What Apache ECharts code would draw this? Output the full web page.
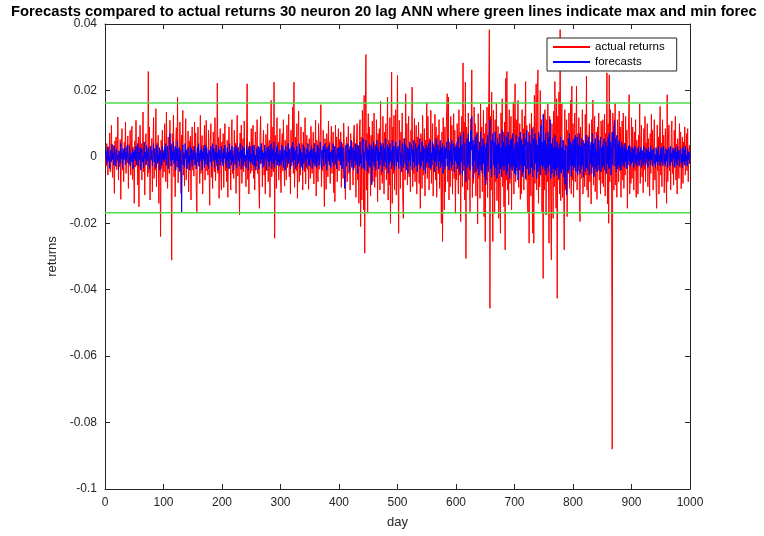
<!DOCTYPE html>
<html>
<head>
<meta charset="utf-8">
<script src="https://cdn.jsdelivr.net/npm/echarts@6/dist/echarts.min.js"></script>
<style>
html,body{margin:0;padding:0;background:#fff;}
#chart{width:764px;height:536px;}
</style>
</head>
<body>
<div id="chart"></div>
<script>
// Daily values stored in basis points (1 bp = 0.0001 return)
const BP = 0.0001;

const actualReturnsBp = [
5,-28,40,12,-55,30,-10,72,-45,18,95,-20,-62,35,8,-110,48,-15,60,-38,25,120,-70,15,-30,52,-128,20,85,-40,10,-75,44,-8,105,-50,28,-18,63,-95,37,-22,80,-55,14,92,-68,30,6,-140,
48,-30,110,-25,18,-85,60,-150,22,95,-12,40,-70,8,135,-45,26,-115,35,70,-20,12,-60,257,-48,90,-130,30,-10,55,-105,28,118,-65,15,-40,145,-90,42,-18,65,-140,25,5,-240,50,-35,80,-62,20,
-45,100,30,-75,135,-15,-95,60,12,-50,110,-28,40,-311,70,-10,125,-60,20,-120,52,88,-30,180,-78,25,-42,105,8,-110,66,-22,140,-55,14,-88,38,115,-70,18,-35,78,-105,48,-8,62,-130,24,90,-40,
32,-58,105,-20,72,-98,-165,40,90,-28,10,-80,125,-50,22,64,-112,35,-12,95,-70,28,110,-42,6,-55,80,-25,-146,48,100,-62,18,-95,75,30,-45,118,-72,15,-28,222,-50,58,-125,24,85,-38,-100,45,
-22,70,-92,38,100,-42,15,-75,50,-122,26,90,-32,8,-100,62,112,-50,18,-65,80,-25,42,-110,12,125,-58,30,-15,-175,72,-38,96,-80,22,55,-45,108,-28,5,-90,60,220,-68,32,-112,45,18,-50,85,
-42,25,95,-65,12,-100,75,35,-28,112,-50,15,-82,-155,58,122,-20,40,-90,28,80,-55,8,-112,68,22,-42,100,-75,32,50,-122,15,170,-60,-32,90,-45,225,-245,65,18,-95,118,-25,45,-70,12,85,-50,
-108,38,70,-42,112,-20,-88,50,12,-70,96,-32,25,128,-60,15,-112,80,-28,45,150,-50,225,-92,20,60,-42,100,-125,28,138,-75,18,-55,90,-25,40,-100,75,8,-45,118,-82,32,65,-38,12,-98,55,25,
-65,92,28,-50,15,75,-82,40,-18,110,-118,50,8,-75,100,-38,25,65,157,-90,18,-42,80,-28,-150,55,12,-98,70,35,-60,108,-22,45,-80,25,92,-50,8,75,-108,32,-135,96,-25,60,-75,18,85,-42,
52,-25,75,-92,22,40,-65,102,105,-42,-128,28,60,-75,15,92,-50,25,-100,70,-20,45,8,-85,65,96,-32,18,-122,55,100,-70,35,-140,90,112,-210,60,-130,140,28,-160,185,-290,120,308,-100,70,-170,130,
-50,90,25,-118,65,-42,108,-75,12,132,-92,38,-60,112,22,-135,70,-28,85,-100,168,-55,40,-80,122,15,-112,75,-38,100,-70,28,180,-130,50,-85,118,-200,65,255,-140,90,-50,125,-100,18,142,-115,40,245,
-70,-230,110,45,-95,75,-40,132,-120,-185,55,25,-70,190,-32,100,-85,20,122,-60,40,-105,80,12,210,-90,35,-50,115,-75,28,95,-112,60,-25,105,-80,18,-155,70,40,-95,125,-55,15,85,-118,50,-32,165,
-65,122,25,-100,55,-40,140,-80,18,100,-118,38,-28,128,-70,90,-122,15,65,-50,112,-95,40,-22,-200,75,-255,118,25,-160,90,-105,50,135,190,-75,180,-130,45,-90,122,-42,95,-112,12,130,-65,80,-170,38,
-70,100,30,-112,142,-55,75,-195,50,122,-90,283,-42,105,-130,225,-306,90,45,-100,132,-70,25,-165,115,60,262,-122,38,-80,150,-50,100,-118,18,75,-202,130,-65,42,-125,160,-42,90,-105,28,140,-180,70,-255,
100,-70,150,-122,50,180,383,-456,122,-100,195,-60,-255,140,28,-170,112,-75,160,-132,42,92,-185,65,-112,-230,132,-42,175,-90,75,-150,105,-280,236,-70,257,-100,50,-145,142,-80,28,122,-160,65,-42,165,-112,85,
220,-75,112,-42,65,170,-92,25,100,-128,55,-112,142,-50,85,-100,122,32,227,-70,95,-132,-168,75,-260,100,42,-118,132,-60,-230,90,-260,185,-80,50,220,-100,122,262,-140,70,-90,200,-55,112,-165,42,-366,130,
-100,142,65,-175,112,-75,160,-42,-260,122,80,-132,-310,100,42,-185,138,-90,227,60,-155,175,-426,122,-70,195,-112,383,-132,75,160,-122,50,-65,-280,142,-100,28,112,-180,80,-50,132,-95,42,170,-112,213,-70,100,
-122,55,132,-75,22,213,-100,70,-42,118,-132,-195,90,35,-65,142,-112,50,12,-90,128,-55,243,-100,65,-122,40,100,-75,18,-142,112,-32,171,-85,60,122,-105,8,75,-128,90,-42,132,-70,28,-112,108,50,-80,
112,-90,42,128,-118,70,-50,253,-142,100,-200,247,-75,142,50,-112,-880,132,75,-100,42,160,-85,22,-122,112,65,-75,138,-42,90,-122,15,108,-70,132,-95,42,-55,122,-32,80,-155,55,100,187,-112,28,-80,118,
-65,90,22,-100,75,-42,112,-122,50,8,-112,65,-28,160,-80,38,96,-60,15,-108,85,-38,122,-75,42,-20,100,-90,55,12,-118,70,-50,128,-25,80,-100,32,112,-70,5,-85,-155,96,-42,60,-112,75,152,-55,
42,-90,112,-28,65,-108,25,85,-60,-140,187,-75,50,96,-42,15,-100,70,108,-50,28,-85,80,-20,122,-70,38,-112,55,8,-65,100,-32,75,-96,22,60,-80,45,-25,90,-55,12,70,-42,85,-75,5,35,-15
];

const forecastsBp = [
-5,18,-22,8,30,-12,2,-35,20,6,-15,38,-8,12,-25,32,-2,-28,15,24,-10,5,-38,18,10,-20,42,-5,12,-32,25,-8,3,28,-24,15,-12,36,-3,-20,8,32,-28,12,5,-15,24,-36,15,-6,
20,-12,32,-25,5,40,-28,15,-8,28,-40,12,25,-15,3,-32,45,-5,15,-25,35,-12,8,28,-20,-36,12,32,-8,20,-28,5,40,-15,25,-3,-32,15,36,-20,8,-12,28,-40,20,5,-25,32,-8,12,
-15,28,-5,40,-25,12,32,-36,8,20,70,-12,36,-28,15,-8,45,-20,5,32,-40,25,-12,48,-32,3,28,-45,20,-15,-168,12,36,-25,8,-32,40,-5,20,-36,15,28,-20,5,-40,32,-12,25,-28,8,
20,-8,32,-25,12,-36,5,28,-15,40,-28,8,20,-12,32,-40,15,-5,25,-32,36,-20,3,28,-25,12,-36,20,8,-15,32,-28,5,40,-12,25,-32,15,-8,36,-20,12,-40,28,-5,20,-25,8,32,-15,
12,-28,25,-5,36,-20,8,-32,28,-12,15,-36,40,-8,20,-25,32,-15,5,-40,28,12,-20,36,-32,8,25,-12,15,-28,40,-5,20,-36,32,-25,12,28,-15,5,-32,36,-8,20,-40,25,-12,32,-20,8,
-15,32,-25,12,36,-28,5,-40,25,15,-12,32,-36,8,28,-20,40,-8,20,-32,12,-25,36,-5,15,-40,28,8,-15,32,-28,20,-12,40,-36,5,25,-20,45,-32,12,-8,28,-25,36,-15,8,-28,20,15,
-25,36,-12,28,-32,8,20,-40,32,-5,15,-28,40,-20,12,25,-36,5,32,-15,45,-25,28,-8,20,-36,12,32,-28,8,-20,40,-12,25,-32,15,5,-40,36,-20,28,-12,8,-32,25,-5,40,-25,15,-28,
20,-8,32,-36,12,25,-20,40,-28,5,15,-32,36,-12,28,-25,8,45,-15,-36,20,-5,32,-28,12,40,-20,25,-40,8,28,-12,36,-25,15,-32,5,20,-15,40,-28,12,32,-20,8,-36,25,-8,28,-12,
-12,32,-25,45,-36,15,28,-20,-55,-95,25,36,-28,8,40,-15,20,-45,32,-8,50,-32,12,28,-40,20,-12,40,-25,5,36,-50,15,32,-28,45,-20,8,-36,28,55,-32,15,-40,25,50,-12,28,-45,20,
-25,40,-32,12,36,-84,25,-15,45,-28,8,32,-40,20,50,-12,28,-36,15,-25,45,-8,32,-45,12,40,-28,25,-15,55,-32,5,36,-50,28,-20,40,-12,20,-36,50,-25,15,32,-40,8,45,-28,25,-15,
32,-36,20,50,-25,12,-45,28,40,-32,15,55,-20,36,-40,8,28,-50,25,-12,45,-28,15,36,-40,20,-15,50,-32,12,40,-25,28,-45,8,36,-20,55,-36,15,-28,45,-12,32,-40,25,12,-50,36,-20,
28,-15,40,-32,20,50,-36,12,-25,45,-8,32,-45,25,-15,55,-28,8,36,-40,20,-12,50,-32,28,-20,40,-50,15,32,-36,25,-5,45,-28,12,55,-40,20,-15,36,-32,50,-25,8,40,-45,28,-12,32,
-20,45,-36,60,-28,25,-50,65,-15,36,-55,32,75,-25,40,-45,-75,28,55,-32,70,-20,45,-40,80,20,122,-28,50,-65,36,-12,60,-45,28,70,-36,20,-55,45,-25,75,-40,32,-50,55,-20,40,-60,28,
-84,40,-28,65,-45,55,80,112,-36,50,-60,32,70,-25,45,-55,75,-32,36,-65,55,-20,40,-50,70,-36,28,-60,80,-28,45,-40,65,-25,32,-55,60,-45,75,-20,36,-65,50,-32,55,-40,70,-28,25,-50,
40,-55,65,-32,45,-70,28,60,-40,75,-25,50,-60,36,-45,70,-28,55,-65,32,80,-36,45,-55,25,65,-50,40,-32,85,-60,28,55,-40,70,-20,50,-65,36,-45,75,-32,60,-55,95,-25,45,-36,127,-28,
50,-40,70,-55,36,-32,75,-45,60,-25,112,-65,40,-50,55,-36,28,-60,65,-40,32,-55,45,-32,25,-65,40,-45,60,-50,28,-36,50,-60,20,-84,36,-55,-114,32,-45,55,-40,70,-28,45,-60,36,-25,50,
-40,55,-32,65,-45,25,60,-55,36,-28,70,-50,32,-36,55,-25,45,-60,28,40,-45,65,-32,50,-40,25,60,-55,36,-20,45,-50,70,-28,40,-60,32,55,-36,20,-45,65,-25,50,-40,32,60,-45,28,-32,
36,-28,55,-40,25,45,-50,32,-20,60,-36,70,-32,45,-55,28,75,-25,50,85,110,-28,55,-45,65,-36,40,-25,50,-32,28,-40,45,-20,36,-28,25,-32,40,-15,28,-36,20,-25,32,-12,36,-28,15,-20,
28,-15,25,-32,12,32,-20,8,-28,25,-12,32,-25,15,-8,28,-32,20,5,-25,32,-15,12,-28,25,-5,20,-32,28,-12,15,-25,32,-8,20,-28,12,25,-20,8,-32,28,-15,20,-25,32,-12,5,-28,25,
-15,28,-25,12,32,-20,8,-28,25,-12,20,-32,15,28,-8,-25,32,-15,12,-28,25,-5,20,-32,28,-12,15,-25,32,-8,20,-28,12,25,-20,8,-32,28,-15,20,-25,32,-12,5,-28,25,-8,15,-20,12
];

// Green reference lines: max and min forecast
const forecastMax = 0.0162;
const forecastMin = -0.0168;

const xTicks = { min: 0, max: 1000, interval: 100 };
const yTicks = { min: -0.1, max: 0.04, interval: 0.02 };

const titleText = 'Forecasts compared to actual returns 30 neuron 20 lag ANN where green lines indicate max and min forec';

const actualData = actualReturnsBp.map((v, i) => [i + 1, v * BP]);
const forecastData = forecastsBp.map((v, i) => [i + 1, v * BP]);

const chart = echarts.init(document.getElementById('chart'), null, { renderer: 'canvas' });
const txt = '#262626';
const FONT = 'Liberation Sans, Arial, sans-serif';
const tickCommon = { inside: true, length: 5, lineStyle: { color: '#262626' } };

chart.setOption({
  animation: false,
  backgroundColor: '#ffffff',
  title: {
    text: titleText,
    left: 6, top: -1,
    textStyle: { fontFamily: FONT, fontSize: 14.8, fontWeight: 'bold', color: '#000' }
  },
  grid: { left: 105, right: 74, top: 24, bottom: 47, containLabel: false },
  legend: {
    data: ['actual returns', 'forecasts'],
    orient: 'vertical',
    left: 547, top: 38,
    padding: [3, 12, 3, 6],
    itemGap: 3,
    itemWidth: 37, itemHeight: 2,
    icon: 'rect',
    backgroundColor: '#fff',
    borderColor: '#262626', borderWidth: 1, borderRadius: 0,
    textStyle: { fontFamily: FONT, fontSize: 11.5, color: '#000' }
  },
  xAxis: [{
    type: 'value', min: xTicks.min, max: xTicks.max, interval: xTicks.interval,
    name: 'day', nameLocation: 'middle', nameGap: 27,
    nameTextStyle: { fontFamily: FONT, fontSize: 13, color: txt },
    axisLine: { onZero: false, lineStyle: { color: '#262626', width: 1 } },
    axisTick: tickCommon,
    axisLabel: { fontFamily: FONT, fontSize: 12, color: txt, margin: 8, formatter: v => String(v) },
    splitLine: { show: false }
  }, {
    type: 'value', position: 'top', min: xTicks.min, max: xTicks.max, interval: xTicks.interval,
    axisLine: { onZero: false, lineStyle: { color: '#262626', width: 1 } },
    axisTick: tickCommon, axisLabel: { show: false }, splitLine: { show: false }
  }],
  yAxis: [{
    type: 'value', min: yTicks.min, max: yTicks.max, interval: yTicks.interval,
    name: 'returns', nameLocation: 'middle', nameGap: 46, nameRotate: 90,
    nameTextStyle: { fontFamily: FONT, fontSize: 13, color: txt },
    axisLine: { show: true, onZero: false, lineStyle: { color: '#262626', width: 1 } },
    axisTick: tickCommon,
    axisLabel: { fontFamily: FONT, fontSize: 12, color: txt, margin: 8 },
    splitLine: { show: false }
  }, {
    type: 'value', position: 'right', min: yTicks.min, max: yTicks.max, interval: yTicks.interval,
    axisLine: { show: true, onZero: false, lineStyle: { color: '#262626', width: 1 } },
    axisTick: tickCommon, axisLabel: { show: false }, splitLine: { show: false }
  }],
  series: [
    {
      name: 'actual returns', type: 'line', data: actualData,
      showSymbol: false, symbol: 'none',
      lineStyle: { color: '#ff0000', width: 1 }, itemStyle: { color: '#ff0000' },
      z: 2
    },
    {
      name: 'forecasts', type: 'line', data: forecastData,
      showSymbol: false, symbol: 'none',
      lineStyle: { color: '#0000ff', width: 1 }, itemStyle: { color: '#0000ff' },
      z: 3
    },
    {
      name: 'max forecast', type: 'line', data: [[xTicks.min, forecastMax], [xTicks.max, forecastMax]],
      showSymbol: false, symbol: 'none', silent: true,
      lineStyle: { color: '#4cdc4c', width: 1.5 }, z: 4
    },
    {
      name: 'min forecast', type: 'line', data: [[xTicks.min, forecastMin], [xTicks.max, forecastMin]],
      showSymbol: false, symbol: 'none', silent: true,
      lineStyle: { color: '#4cdc4c', width: 1.5 }, z: 4
    }
  ]
});
</script>
</body>
</html>
